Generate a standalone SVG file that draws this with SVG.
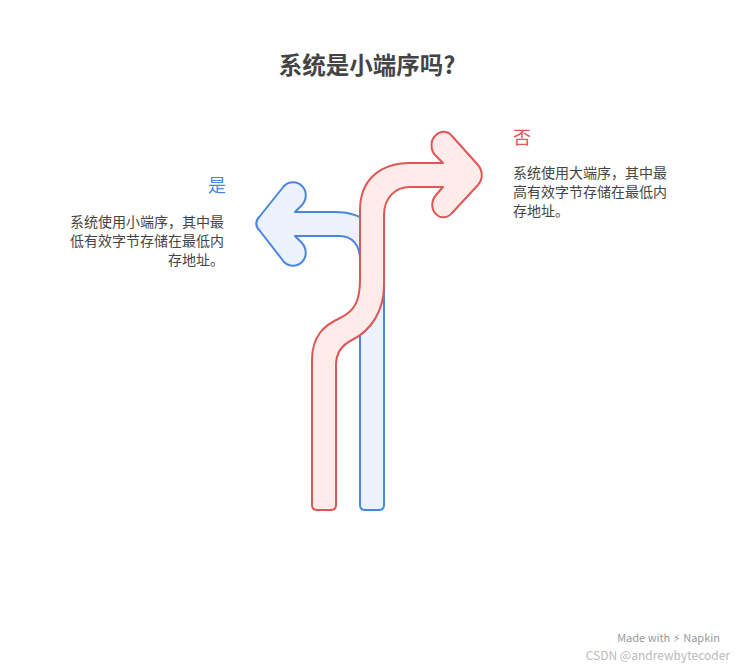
<svg xmlns="http://www.w3.org/2000/svg" width="744" height="667" viewBox="0 0 744 667">
<style>
text{font-family:"Noto Sans CJK SC","Noto Sans",sans-serif}
.d{font-size:14px;fill:#444}
</style>
<rect width="744" height="667" fill="#fff"/>
<text x="367" y="74" text-anchor="middle" font-size="23.5" font-weight="bold" fill="#444">系统是小端序吗?</text>
<g id="connectors">
<g id="yes-arrow"><path d="M384,505 L384,260 C384,230 365,212 335,212 L295,212 L302,205 C307,199 307,191 302,186 C297,181 289,181 284,186 L260,216 C255,221 255,226 260,231 L284,262 C289,267 297,267 302,262 C307,257 307,249 302,243 L295,236 L340,236 C352,236 360,245 360,260 L360,505 Q360,510 365,510 L379,510 Q384,510 384,505 Z" fill="#ebf2fd" stroke="#4a86e0" stroke-width="2" stroke-linejoin="round"/></g>
<g id="no-arrow"><path d="M312,505 L312,360 C312,335 325,325 340,318 C355,311 360,300 360,280 L360,210 C360,180 380,163 410,163 L443,163 L436,156 C430,150 430,140 436,135 C441,130 448,131 452,136 L478,165 C483,171 483,179 478,185 L452,213 C448,218 440,219 436,214 C431,209 431,201 436,195 L443,187 L410,187 C395,187 384,198 384,215 L384,285 C384,310 372,330 352,340 C342,345 336,352 336,365 L336,505 Q336,510 331,510 L317,510 Q312,510 312,505 Z" fill="#fdecea" stroke="#e05555" stroke-width="2" stroke-linejoin="round"/></g>
</g>
<g id="yes">
<text x="226" y="192" text-anchor="end" font-size="18" fill="#4a86e0">是</text>
<text class="d" text-anchor="end"><tspan x="224" y="227">系统使用小端序，其中最</tspan><tspan x="224" y="246">低有效字节存储在最低内</tspan><tspan x="224" y="265">存地址。</tspan></text>
</g>
<g id="no">
<text x="513" y="144" font-size="18" fill="#e05555">否</text>
<text class="d"><tspan x="513" y="178">系统使用大端序，其中最</tspan><tspan x="513" y="197">高有效字节存储在最低内</tspan><tspan x="513" y="216">存地址。</tspan></text>
</g>
<text x="720" y="642" text-anchor="end" font-size="11" fill="#999">Made with ⚡︎ Napkin</text>
<text x="730" y="660" text-anchor="end" font-size="12" fill="#bbb">CSDN @andrewbytecoder</text>
</svg>
